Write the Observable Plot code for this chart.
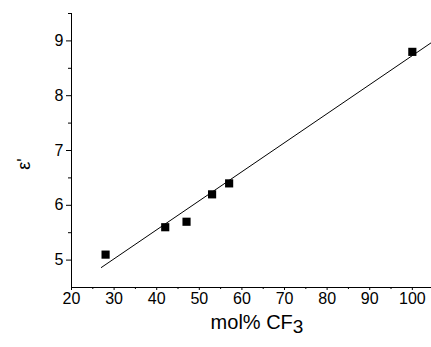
<!DOCTYPE html>
<html>
<head>
<meta charset="utf-8">
<script src="https://cdn.jsdelivr.net/npm/d3@7"></script>
<script src="https://cdn.jsdelivr.net/npm/@observablehq/plot@0.6"></script>
<style>
  html, body { margin: 0; padding: 0; background: white; }
</style>
</head>
<body>
<div id="chart"></div>
<script>
// Data
const molCF3 = [28, 42, 47, 53, 57, 100];
const epsilon = [5.1, 5.6, 5.7, 6.2, 6.4, 8.8];
// Linear fit line endpoints
const fitX = [27, 104.5];
const fitY = [4.865, 8.97];
// Ticks
const xTicks = [20, 30, 40, 50, 60, 70, 80, 90, 100];
const xMinorTicks = [25, 35, 45, 55, 65, 75, 85, 95];
const yTicks = [5, 6, 7, 8, 9];
const yMinorTicks = [5.5, 6.5, 7.5, 8.5, 9.5];
const xLabel = "mol% CF";
const xLabelSub = "3";
const yLabel = "ε'";

const points = molCF3.map((x, i) => ({x, y: epsilon[i]}));
const fit = fitX.map((x, i) => ({x, y: fitY[i]}));

const chart = Plot.plot({
  width: 431,
  height: 347,
  marginLeft: 71,
  marginRight: 0,
  marginTop: 13,
  marginBottom: 60,
  x: {domain: [20, 104.5]},
  y: {domain: [4.5, 9.5]},
  style: {fontFamily: "'Liberation Sans', Arial, sans-serif", fontSize: "16px", color: "black", background: "white"},
  marks: [
    Plot.axisX(xTicks, {tickSize: 3, tickPadding: 2, label: null, fontSize: 16, tickFormat: d => String(d)}),
    Plot.axisX(xMinorTicks, {tickSize: 2, tickFormat: () => "", label: null}),
    Plot.axisY(yTicks, {tickSize: 5, tickPadding: 3, label: null, fontSize: 16, tickFormat: d => String(d)}),
    Plot.axisY(yMinorTicks, {tickSize: 3, tickFormat: () => "", label: null}),
    Plot.ruleY([4.5], {stroke: "black"}),
    Plot.ruleX([20], {stroke: "black"}),
    Plot.line(fit, {x: "x", y: "y", stroke: "black", strokeWidth: 1}),
    Plot.dot(points, {x: "x", y: "y", symbol: "square", r: 4.6, fill: "black", stroke: "none"})
  ]
});

const svg = d3.select(chart);
const xt = svg.append("text")
  .attr("x", 257)
  .attr("y", 329)
  .attr("text-anchor", "middle")
  .attr("font-family", "'Liberation Sans', Arial, sans-serif")
  .attr("font-size", 20)
  .attr("fill", "black");
xt.append("tspan").text(xLabel);
xt.append("tspan").attr("dy", 4).attr("font-size", 19).text(xLabelSub);

svg.append("text")
  .attr("transform", "translate(30,164) rotate(-90)")
  .attr("text-anchor", "middle")
  .attr("font-family", "'Liberation Sans', Arial, sans-serif")
  .attr("font-size", 18)
  .attr("fill", "black")
  .text(yLabel);

document.getElementById("chart").appendChild(chart);
</script>
</body>
</html>
